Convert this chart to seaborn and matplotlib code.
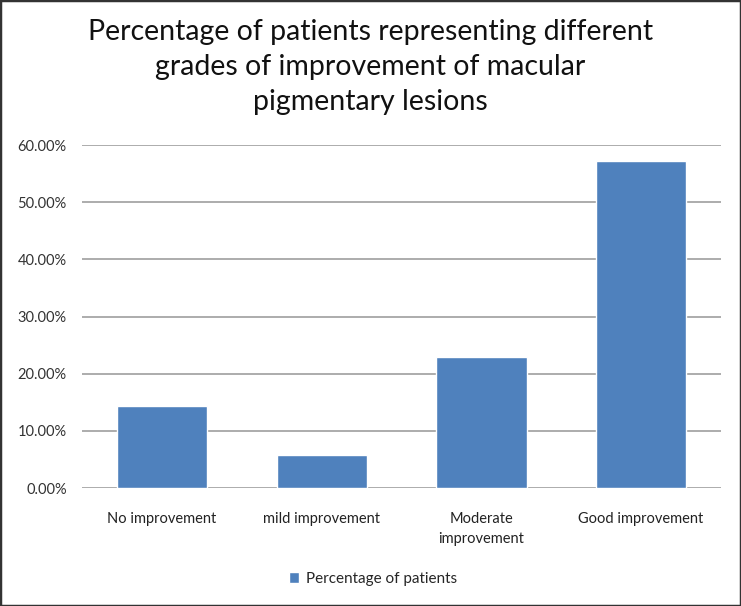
import matplotlib
matplotlib.use("Agg")
import matplotlib.pyplot as plt
import seaborn as sns
import pandas as pd
from matplotlib.patches import Rectangle

categories = ["No improvement", "mild improvement", "Moderate\nimprovement", "Good improvement"]
values = [14.29, 5.71, 22.86, 57.14]
yticks = [0, 10, 20, 30, 40, 50, 60]
ytick_labels = ["0.00%", "10.00%", "20.00%", "30.00%", "40.00%", "50.00%", "60.00%"]
series_name = "Percentage of patients"
title = "Percentage of patients representing different\ngrades of improvement of macular\npigmentary lesions"

sns.set_theme(style="white")
plt.rcParams['font.family'] = ['Lato', 'DejaVu Sans']

df = pd.DataFrame({"category": categories, "value": values, "series": series_name})

fig = plt.figure(figsize=(7.41, 6.06), dpi=100)
ax = fig.add_axes([0.1107, 0.1947, 0.973 - 0.1107, 0.7607 - 0.1947])

sns.barplot(data=df, x="category", y="value", hue="series", palette=["#4F81BD"],
            width=0.565, ax=ax, saturation=1, legend=True)

ax.set_ylim(0, 60)
ax.set_xlim(-0.5, 3.5)
ax.set_yticks(yticks)
ax.set_yticklabels(ytick_labels, fontsize=10.5, color="#333333")
ax.tick_params(axis="x", labelsize=10.5, colors="#222222", pad=17.5, length=0)
ax.tick_params(axis="y", pad=11, length=0)
for lbl in ax.get_xticklabels():
    lbl.set_linespacing(1.55)
ax.set_xlabel("")
ax.set_ylabel("")
ax.yaxis.grid(True, color="#A6A6A6", linewidth=1.3)
ax.set_axisbelow(True)
for s in ax.spines.values():
    s.set_visible(False)

leg = ax.legend(loc="upper center", bbox_to_anchor=(0.455, -0.205), frameon=False,
                fontsize=11, handlelength=0.7, handleheight=0.7, handletextpad=0.4)

fig.text(0.5, 0.968, title, ha="center", va="top", fontsize=20.5, color="#111111",
         linespacing=1.42)

fig.patches.append(Rectangle((0, 0), 1, 1, transform=fig.transFigure, fill=False,
                             edgecolor="#333333", linewidth=2.5))

fig.savefig("out.png", dpi=100)
